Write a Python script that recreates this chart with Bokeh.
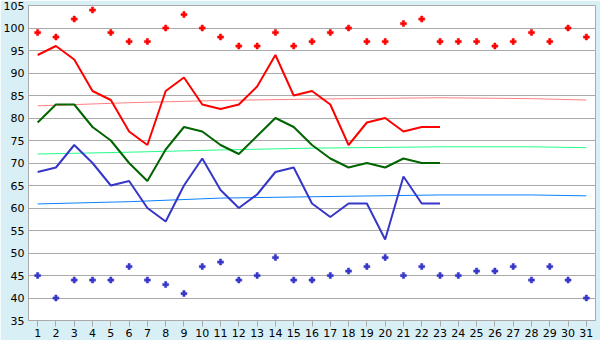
from bokeh.plotting import figure
from bokeh.models import Range1d, FixedTicker
from bokeh.embed import file_html
from bokeh.resources import INLINE

# ---- data ----
days = list(range(1, 32))
high_pts = [99, 98, 102, 104, 99, 97, 97, 100, 103, 100, 98, 96, 96, 99, 96, 97,
            99, 100, 97, 97, 101, 102, 97, 97, 97, 96, 97, 99, 97, 100, 98]
low_pts = [45, 40, 44, 44, 44, 47, 44, 43, 41, 47, 48, 44, 45, 49, 44, 44,
           45, 46, 47, 49, 45, 47, 45, 45, 46, 46, 47, 44, 47, 44, 40]

line_days = list(range(1, 24))
red_line = [94, 96, 93, 86, 84, 77, 74, 86, 89, 83, 82, 83, 87, 94, 85, 86,
            83, 74, 79, 80, 77, 78, 78]
green_line = [79, 83, 83, 78, 75, 70, 66, 73, 78, 77, 74, 72, 76, 80, 78, 74,
              71, 69, 70, 69, 71, 70, 70]
blue_line = [68, 69, 74, 70, 65, 66, 60, 57, 65, 71, 64, 60, 63, 68, 69, 61,
             58, 61, 61, 53, 67, 61, 61]

trend_days = [1, 6, 11, 16, 23, 28, 31]
red_trend = [82.7, 83.4, 83.9, 84.2, 84.5, 84.3, 84.0]
green_trend = [72.0, 72.4, 72.9, 73.3, 73.6, 73.6, 73.4]
blue_trend = [60.9, 61.4, 62.2, 62.5, 62.9, 62.9, 62.7]

y_ticks = list(range(35, 106, 5))

# ---- figure ----
p = figure(width=600, height=340, output_backend="svg", toolbar_location=None,
           x_range=Range1d(0.5, 31.5), y_range=Range1d(35, 105),
           min_border_left=26, min_border_right=5, min_border_top=5,
           min_border_bottom=20)
p.background_fill_color = "white"
p.border_fill_color = "#d9eff6"
p.outline_line_color = "#aaaaaa"

p.xgrid.visible = False
p.ygrid.ticker = FixedTicker(ticks=y_ticks)
p.ygrid.grid_line_color = "#aaaaaa"
p.ygrid.grid_line_width = 1

p.xaxis.ticker = FixedTicker(ticks=days)
p.yaxis.ticker = FixedTicker(ticks=y_ticks)
for ax in (p.xaxis[0], p.yaxis[0]):
    ax.axis_line_color = "#aaaaaa"
    ax.major_tick_line_color = "#aaaaaa"
    ax.minor_tick_line_color = None
    ax.major_label_text_font = "DejaVu Sans"
    ax.major_label_text_font_size = "11px"
    ax.major_label_text_color = "black"
p.yaxis.major_tick_out = 0
p.yaxis.major_tick_in = 0
p.yaxis.major_label_standoff = 4
p.xaxis.major_tick_out = 6
p.xaxis.major_tick_in = 0
p.xaxis.major_label_standoff = 2

# trend lines
p.line(trend_days, red_trend, line_color="#ff8080", line_width=1)
p.line(trend_days, green_trend, line_color="#22ff88", line_width=1)
p.line(trend_days, blue_trend, line_color="#0a80ff", line_width=1)

# main lines
p.line(line_days, red_line, line_color="#ff0000", line_width=2)
p.line(line_days, green_line, line_color="#006400", line_width=2)
p.line(line_days, blue_line, line_color="#3636c8", line_width=2)

# scatter points
p.scatter(days, high_pts, marker="plus", size=6, fill_color="#ff0000",
          line_color="#ff0000", line_width=0.5)
p.scatter(days, low_pts, marker="plus", size=6, fill_color="#3636c8",
          line_color="#3636c8", line_width=0.5)

open("out.html", "w").write(file_html(p, INLINE))
